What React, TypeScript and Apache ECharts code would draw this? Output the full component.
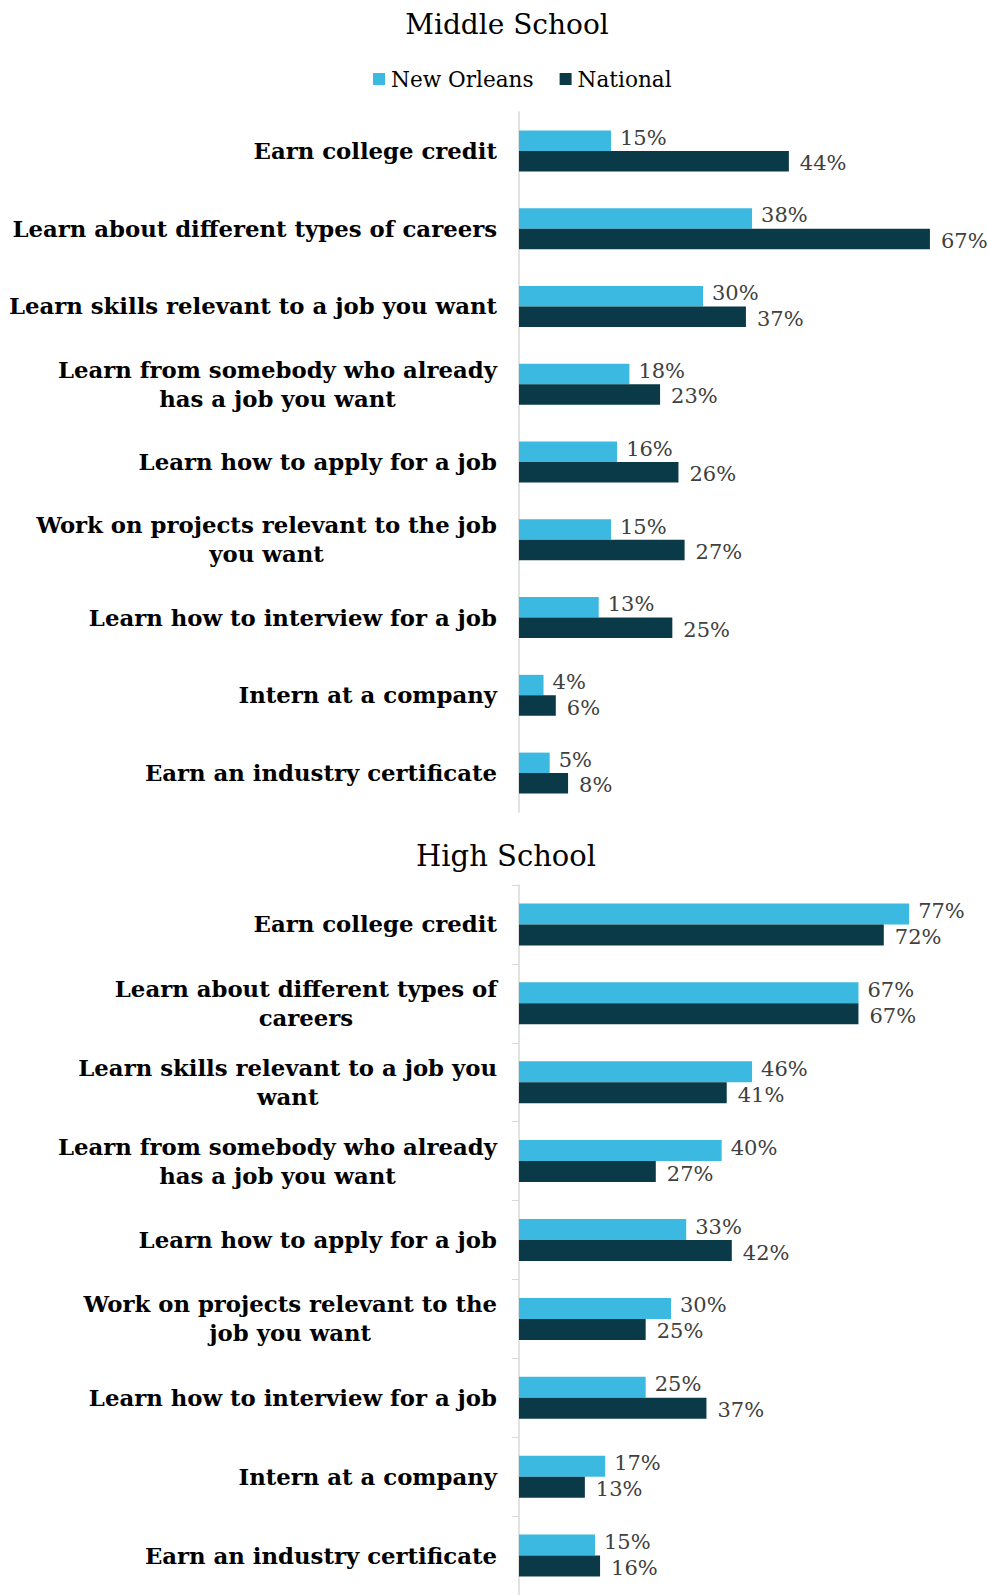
import React, { useEffect, useRef } from "react";
import * as echarts from "echarts";

const msCategories = [
  "Earn college credit",
  "Learn about different types of careers",
  "Learn skills relevant to a job you want",
  "Learn from somebody who already\nhas a job you want",
  "Learn how to apply for a job",
  "Work on projects relevant to the job\nyou want",
  "Learn how to interview for a job",
  "Intern at a company",
  "Earn an industry certificate",
];
const msNewOrleans = [15, 38, 30, 18, 16, 15, 13, 4, 5];
const msNational = [44, 67, 37, 23, 26, 27, 25, 6, 8];

const hsCategories = [
  "Earn college credit",
  "Learn about different types of\ncareers",
  "Learn skills relevant to a job you\nwant",
  "Learn from somebody who already\nhas a job you want",
  "Learn how to apply for a job",
  "Work on projects relevant to the\njob you want",
  "Learn how to interview for a job",
  "Intern at a company",
  "Earn an industry certificate",
];
const hsNewOrleans = [77, 67, 46, 40, 33, 30, 25, 17, 15];
const hsNational = [72, 67, 41, 27, 42, 25, 37, 13, 16];

const seriesNames = ["New Orleans", "National"];
const titles = ["Middle School", "High School"];

const FONT = "DejaVu Serif";
const LIGHT = "#3BB9E0";
const DARK = "#0A3A47";
const AXIS = "#D9D9D9";

export default function App() {
  const ref = useRef<HTMLDivElement>(null);
  useEffect(() => {
    document.body.style.margin = "0";
    const chart = echarts.init(ref.current!, null, { renderer: "svg" });
    const catLabel = {
      margin: 22,
      fontFamily: FONT,
      fontWeight: "bold" as const,
      fontSize: 22.8,
      color: "#000",
      lineHeight: 29,
      align: "right" as const,
      formatter: (v: string) =>
        v
          .split("\n")
          .map((l) => "{c|" + l + "}")
          .join("\n"),
      rich: {
        c: {
          align: "center",
          fontFamily: FONT,
          fontWeight: "bold",
          fontSize: 22.8,
          color: "#000",
          lineHeight: 29,
        },
      },
    };
    const valLabel = (off: number, dist: number) => ({
      show: true,
      position: "right" as const,
      distance: dist,
      offset: [0, off],
      formatter: "{c}%",
      fontFamily: FONT,
      fontSize: 21,
      color: "#404040",
    });
    const mkSeries = (
      axisIdx: number,
      a: number[],
      b: number[],
      bw: number
    ) => [
      {
        name: seriesNames[0],
        type: "bar",
        xAxisIndex: axisIdx,
        yAxisIndex: axisIdx,
        data: a,
        barWidth: bw,
        barGap: "0%",
        itemStyle: { color: LIGHT },
        label: valLabel(-3, 9),
      },
      {
        name: seriesNames[1],
        type: "bar",
        xAxisIndex: axisIdx,
        yAxisIndex: axisIdx,
        data: b,
        barWidth: bw,
        barGap: "0%",
        itemStyle: { color: DARK },
        label: valLabel(2, 11),
      },
    ];
    chart.setOption({
      animation: false,
      backgroundColor: "#fff",
      title: [
        {
          text: titles[0],
          left: 502,
          top: 5,
          textAlign: "center",
          textStyle: { fontFamily: FONT, fontWeight: "normal", fontSize: 28, color: "#000" },
        },
        {
          text: titles[1],
          left: 501,
          top: 836,
          textAlign: "center",
          textStyle: { fontFamily: FONT, fontWeight: "normal", fontSize: 29, color: "#000" },
        },
      ],
      legend: {
        data: seriesNames,
        left: 368,
        top: 63,
        icon: "rect",
        itemWidth: 12,
        itemHeight: 12,
        itemGap: 26,
        textStyle: { fontFamily: FONT, fontSize: 21.6, color: "#000", padding: [0, 0, 0, 1] },
      },
      grid: [
        { left: 519, top: 112, width: 460, height: 700 },
        { left: 519, top: 885, width: 456, height: 717 },
      ],
      xAxis: [
        { type: "value", gridIndex: 0, min: 0, max: 75, show: false },
        { type: "value", gridIndex: 1, min: 0, max: 90, show: false },
      ],
      yAxis: [
        {
          type: "category",
          gridIndex: 0,
          inverse: true,
          data: msCategories,
          axisLine: { lineStyle: { color: AXIS, width: 1.5 } },
          axisTick: { show: false },
          axisLabel: catLabel,
        },
        {
          type: "category",
          gridIndex: 1,
          inverse: true,
          data: hsCategories,
          axisLine: { lineStyle: { color: AXIS, width: 1.5 } },
          axisTick: { show: true, length: 7, lineStyle: { color: AXIS } },
          axisLabel: catLabel,
        },
      ],
      series: [
        ...mkSeries(0, msNewOrleans, msNational, 20.5),
        ...mkSeries(1, hsNewOrleans, hsNational, 21),
      ],
    });
    return () => chart.dispose();
  }, []);
  return (
    <div
      ref={ref}
      style={{ position: "absolute", left: 0, top: 0, width: 988, height: 1595 }}
    />
  );
}
